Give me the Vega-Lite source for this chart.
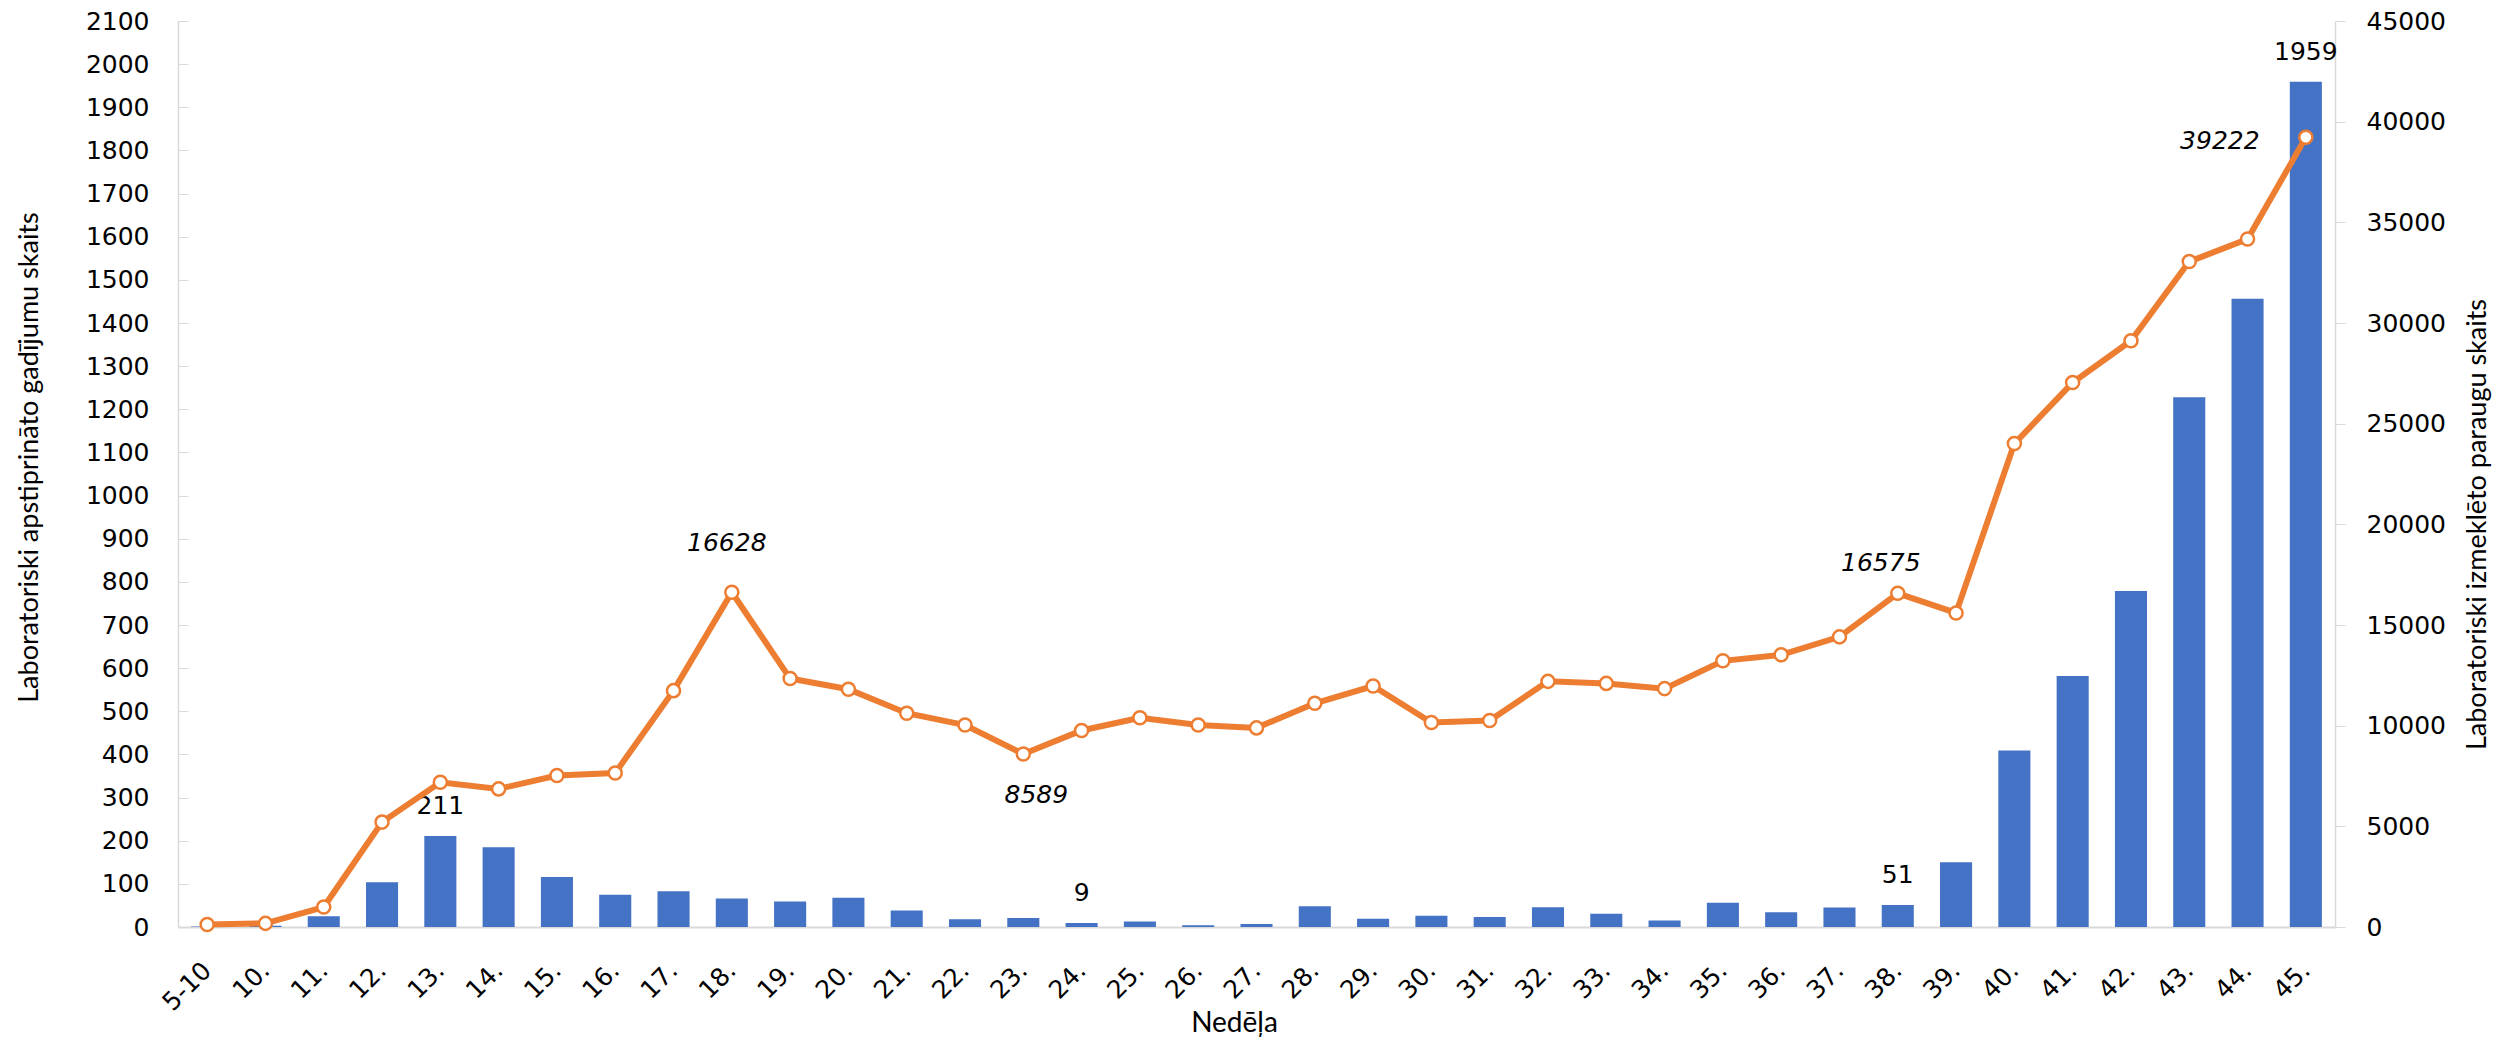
{
  "$schema": "https://vega.github.io/schema/vega-lite/v6.json",
  "width": 2157,
  "height": 906,
  "autosize": {"type": "none"},
  "padding": {"left": 178, "top": 21, "right": 169, "bottom": 114},
  "background": "white",
  "config": {"view": {"stroke": null}, "axis": {"grid": false}},
  "data": {"values": [
    {"week": "5-10", "cases": 1, "tests": 120},
    {"week": "10.", "cases": 3, "tests": 180},
    {"week": "11.", "cases": 25, "tests": 990},
    {"week": "12.", "cases": 104, "tests": 5210},
    {"week": "13.", "cases": 211, "tests": 7190},
    {"week": "14.", "cases": 185, "tests": 6860},
    {"week": "15.", "cases": 116, "tests": 7520},
    {"week": "16.", "cases": 75, "tests": 7650},
    {"week": "17.", "cases": 83, "tests": 11740},
    {"week": "18.", "cases": 66, "tests": 16628},
    {"week": "19.", "cases": 59, "tests": 12340},
    {"week": "20.", "cases": 68, "tests": 11810},
    {"week": "21.", "cases": 38, "tests": 10620},
    {"week": "22.", "cases": 18, "tests": 10030},
    {"week": "23.", "cases": 21, "tests": 8589},
    {"week": "24.", "cases": 9, "tests": 9760},
    {"week": "25.", "cases": 13, "tests": 10390},
    {"week": "26.", "cases": 4, "tests": 10030},
    {"week": "27.", "cases": 7, "tests": 9890},
    {"week": "28.", "cases": 48, "tests": 11110},
    {"week": "29.", "cases": 19, "tests": 11970},
    {"week": "30.", "cases": 26, "tests": 10160},
    {"week": "31.", "cases": 23, "tests": 10260},
    {"week": "32.", "cases": 46, "tests": 12200},
    {"week": "33.", "cases": 31, "tests": 12100},
    {"week": "34.", "cases": 15, "tests": 11840},
    {"week": "35.", "cases": 56, "tests": 13220},
    {"week": "36.", "cases": 34, "tests": 13520},
    {"week": "37.", "cases": 45, "tests": 14410},
    {"week": "38.", "cases": 51, "tests": 16575},
    {"week": "39.", "cases": 150, "tests": 15600},
    {"week": "40.", "cases": 409, "tests": 24010},
    {"week": "41.", "cases": 582, "tests": 27040},
    {"week": "42.", "cases": 779, "tests": 29120},
    {"week": "43.", "cases": 1228, "tests": 33050},
    {"week": "44.", "cases": 1456, "tests": 34170},
    {"week": "45.", "cases": 1959, "tests": 39222}
  ]},
  "encoding": {
    "x": {
      "field": "week", "type": "nominal", "sort": null,
      "scale": {"paddingInner": 0.45, "paddingOuter": 0.225},
      "axis": {
        "title": "Nedēļa",
        "labelAngle": -45, "labelAlign": "right", "labelBaseline": "middle",
        "labelPadding": 39, "ticks": false,
        "domainColor": "#d9d9d9", "domainWidth": 2,
        "labelFont": "DejaVu Sans", "labelFontSize": 25, "labelColor": "#000000",
        "titleFont": "Lato", "titleFontSize": 28, "titleFontWeight": "normal", "titleColor": "#000000",
        "titleX": 1056, "titleY": 96, "titleAlign": "center", "titleBaseline": "middle"
      }
    }
  },
  "layer": [
    {
      "encoding": {
        "y": {
          "field": "cases", "type": "quantitative",
          "scale": {"domain": [0, 2100], "nice": false},
          "axis": {
            "orient": "left",
            "title": "Laboratoriski apstiprināto gadījumu skaits",
            "values": [0,100,200,300,400,500,600,700,800,900,1000,1100,1200,1300,1400,1500,1600,1700,1800,1900,2000,2100],
            "format": "d",
            "ticks": true, "tickSize": -10, "tickColor": "#d9d9d9",
            "labelPadding": 39,
            "domainColor": "#d9d9d9", "domainWidth": 1.5,
            "labelFont": "DejaVu Sans", "labelFontSize": 25, "labelColor": "#000000",
            "titleFont": "Lato", "titleFontSize": 27, "titleFontWeight": "normal", "titleColor": "#000000",
            "titleX": -149, "titleY": 436, "titleAngle": 270, "titleAlign": "center", "titleBaseline": "middle"
          }
        }
      },
      "layer": [
        {"mark": {"type": "bar", "color": "#4472C4"}},
        {
          "transform": [{"filter": "indexof(['13.','24.','38.','45.'], datum.week) >= 0"}],
          "mark": {"type": "text", "font": "DejaVu Sans", "fontSize": 25, "color": "#000000", "baseline": "middle", "align": "center", "dy": -30},
          "encoding": {"text": {"field": "cases", "type": "quantitative", "format": "d"}}
        }
      ]
    },
    {
      "encoding": {
        "y": {
          "field": "tests", "type": "quantitative",
          "scale": {"domain": [0, 45000], "nice": false},
          "axis": {
            "orient": "right",
            "title": "Laboratoriski izmeklēto paraugu skaits",
            "values": [0,5000,10000,15000,20000,25000,30000,35000,40000,45000],
            "format": "d",
            "ticks": true, "tickSize": 10, "tickColor": "#d9d9d9",
            "labelPadding": 21,
            "domainColor": "#d9d9d9", "domainWidth": 1.5,
            "labelFont": "DejaVu Sans", "labelFontSize": 25, "labelColor": "#000000",
            "titleFont": "Lato", "titleFontSize": 27, "titleFontWeight": "normal", "titleColor": "#000000",
            "titleX": 142, "titleY": 503, "titleAngle": 270, "titleAlign": "center", "titleBaseline": "middle"
          }
        }
      },
      "layer": [
        {"mark": {"type": "line", "color": "#ED7D31", "strokeWidth": 6}},
        {"mark": {"type": "point", "filled": true, "fill": "white", "stroke": "#ED7D31", "strokeWidth": 2.5, "size": 170, "opacity": 1}},
        {
          "transform": [{"filter": "datum.week === '18.'"}],
          "mark": {"type": "text", "font": "DejaVu Sans", "fontSize": 25, "fontStyle": "italic", "color": "#000000", "baseline": "middle", "align": "center", "dx": -5, "dy": -49},
          "encoding": {"text": {"field": "tests", "type": "quantitative", "format": "d"}}
        },
        {
          "transform": [{"filter": "datum.week === '23.'"}],
          "mark": {"type": "text", "font": "DejaVu Sans", "fontSize": 25, "fontStyle": "italic", "color": "#000000", "baseline": "middle", "align": "center", "dx": 13, "dy": 41},
          "encoding": {"text": {"field": "tests", "type": "quantitative", "format": "d"}}
        },
        {
          "transform": [{"filter": "datum.week === '38.'"}],
          "mark": {"type": "text", "font": "DejaVu Sans", "fontSize": 25, "fontStyle": "italic", "color": "#000000", "baseline": "middle", "align": "center", "dx": -17, "dy": -30},
          "encoding": {"text": {"field": "tests", "type": "quantitative", "format": "d"}}
        },
        {
          "transform": [{"filter": "datum.week === '45.'"}],
          "mark": {"type": "text", "font": "DejaVu Sans", "fontSize": 25, "fontStyle": "italic", "color": "#000000", "baseline": "middle", "align": "center", "dx": -86, "dy": 4},
          "encoding": {"text": {"field": "tests", "type": "quantitative", "format": "d"}}
        }
      ]
    }
  ],
  "resolve": {"scale": {"y": "independent"}, "axis": {"y": "independent"}}
}
